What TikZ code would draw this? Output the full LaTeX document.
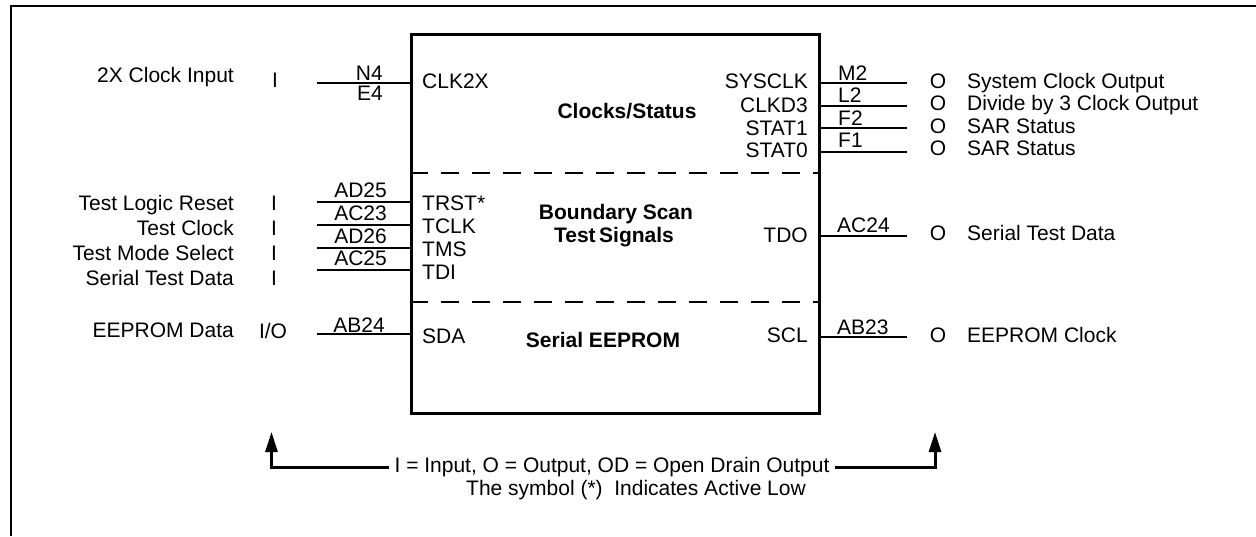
\documentclass[tikz,border=0pt]{standalone}
\usepackage{fontspec}
\setmainfont{Liberation Sans}
\usetikzlibrary{arrows.meta}
\begin{document}
\begin{tikzpicture}[x=1pt,y=-1pt,
  every node/.style={inner sep=0pt, font=\fontsize{21}{21}\selectfont},
  lbl/.style={anchor=base east},
  rlbl/.style={anchor=base west},
  ctr/.style={anchor=base},
  ttl/.style={anchor=base, font=\fontsize{21}{23}\selectfont\bfseries},
  pin/.style={line width=2pt},
  sep/.style={line width=2.5pt, dash pattern=on 18pt off 13pt},
  heavy/.style={line width=3pt}]
\useasboundingbox (0,0) rectangle (1256,536);
% frame
\coordinate (fb) at (11,536);
\coordinate (fc) at (11,6);
\coordinate (fr) at (1256,6);
\draw[line width=2.5pt] (fb) -- (fc) -- (fr);
% chip
\node[draw, line width=3pt, minimum width=408pt, minimum height=379pt, anchor=north west] (chip) at (410,33) {};
\draw[sep] (chip.west |- 0,173) -- (chip.east |- 0,173);
\draw[sep] (chip.west |- 0,302) -- (chip.east |- 0,302);
% titles
\node[ttl] (t1) at (627,118) {Clocks/Status};
\node[ttl] (t2) at (616,219) {Boundary Scan};
\node[ttl] (t3) at (614,242) {Test\,Signals};
\node[ttl] (t4) at (603,347) {Serial EEPROM};
% left pins
\foreach \y/\n in {83/a,202/b,225/c,248/d,270/e,334/f}{
  \coordinate (L\n) at (317,\y);
  \draw[pin] (L\n) -- (L\n -| chip.west);
}
% right pins
\foreach \y/\n in {83/a,106/b,128/c,152/d,236/e,337/f}{
  \coordinate (R\n) at (907,\y);
  \draw[pin] (R\n -| chip.east) -- (R\n);
}
% left descriptions
\node[lbl] (d1) at (234,82) {2X Clock Input};
\node[lbl] (d2) at (234,210) {Test Logic Reset};
\node[lbl] (d3) at (234,235) {Test Clock};
\node[lbl] (d4) at (234,260) {Test Mode Select};
\node[lbl] (d5) at (234,285) {Serial Test Data};
\node[lbl] (d6) at (234,337) {EEPROM Data};
\node[ctr] (i1) at (275,87) {I};
\node[ctr] (i2) at (274,210) {I};
\node[ctr] (i3) at (274,235) {I};
\node[ctr] (i4) at (274,260) {I};
\node[ctr] (i5) at (274,285) {I};
\node[ctr] (i6) at (273,338) {I/O};
% left pin numbers
\node[lbl] (n1) at (383,80) {N4};
\node[lbl] (n2) at (383,100) {E4};
\node[lbl] (n3) at (387,197) {AD25};
\node[lbl] (n4) at (387,220) {AC23};
\node[lbl] (n5) at (387,243) {AD26};
\node[lbl] (n6) at (387,265) {AC25};
\node[lbl] (n7) at (385,332) {AB24};
% inner left names
\node[rlbl] (s1) at (422,88) {CLK2X};
\node[rlbl] (s2) at (422,210) {TRST*};
\node[rlbl] (s3) at (422,233) {TCLK};
\node[rlbl] (s4) at (422,256) {TMS};
\node[rlbl] (s5) at (422,279) {TDI};
\node[rlbl] (s6) at (422,343) {SDA};
% inner right names
\node[lbl] (q1) at (808,88) {SYSCLK};
\node[lbl] (q2) at (808,112) {CLKD3};
\node[lbl] (q3) at (808,135) {STAT1};
\node[lbl] (q4) at (808,157) {STAT0};
\node[lbl] (q5) at (808,242) {TDO};
\node[lbl] (q6) at (808,342) {SCL};
% right pin numbers
\node[rlbl] (m1) at (838,80) {M2};
\node[rlbl] (m2) at (838,102) {L2};
\node[rlbl] (m3) at (838,125) {F2};
\node[rlbl] (m4) at (838,147) {F1};
\node[rlbl] (m5) at (837,232) {AC24};
\node[rlbl] (m6) at (837,334) {AB23};
% right O column and descriptions
\foreach \y/\n/\t in {88/1/System Clock Output,110/2/Divide by 3 Clock Output,133/3/SAR Status,155/4/SAR Status,240/5/Serial Test Data,342/6/EEPROM Clock}{
  \node[ctr] (o\n) at (938,\y) {O};
  \node[rlbl] (r\n) at (967,\y) {\t};
}
% legend
\node[ctr, inner xsep=5pt] (leg) at (612,472) {I = Input, O = Output, OD = Open Drain Output};
\node[ctr] (leg2) at (636,495) {The symbol (*)\ \ Indicates Active Low};
\coordinate (al) at (271.5,432);
\coordinate (ar) at (935,432);
\draw[heavy, -{Triangle[width=12pt,length=20pt]}] (leg.west |- 0,467) -| (al);
\draw[heavy, -{Triangle[width=12pt,length=20pt]}] (leg.east |- 0,467) -| (ar);
\end{tikzpicture}
\end{document}
